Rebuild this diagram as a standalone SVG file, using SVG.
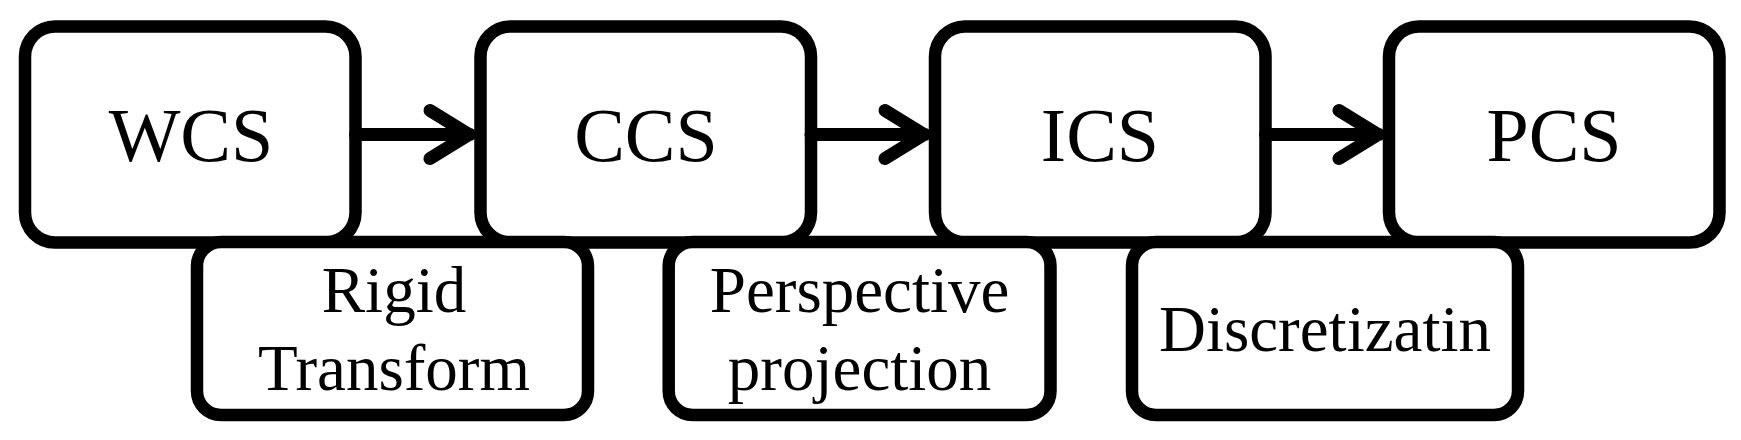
<svg xmlns="http://www.w3.org/2000/svg" width="1741" height="440" viewBox="0 0 1741 440">
<style>
.big{fill:#fff;stroke:#000;stroke-width:12.5}
.small{fill:#fff;stroke:#000;stroke-width:12.5}
.conn{fill:none;stroke:#000;stroke-width:13;stroke-linecap:round;stroke-linejoin:miter}
.lbl{font-family:"Liberation Serif","Times New Roman",serif;fill:#000;text-anchor:middle}
.bl{font-size:76px}
.sl{font-size:65px}
</style>
<rect width="1741" height="440" fill="#fff"/>
<g id="wcs"><rect class="big" x="25" y="26.5" width="330.5" height="216" rx="30"/><text class="lbl bl" x="191" y="161">WCS</text></g>
<g id="ccs"><rect class="big" x="480.5" y="26.5" width="330.5" height="216" rx="30"/><text class="lbl bl" x="646" y="161">CCS</text></g>
<g id="ics"><rect class="big" x="935" y="26.5" width="330.5" height="216" rx="30"/><text class="lbl bl" x="1100" y="161">ICS</text></g>
<g id="pcs"><rect class="big" x="1389" y="26.5" width="330.5" height="216" rx="30"/><text class="lbl bl" x="1554" y="161">PCS</text></g>
<g id="connectors">
<path class="conn" d="M355.5,134.5 H470 M430,110.5 L469,134.5 L430,158.5"/>
<path class="conn" d="M811,134.5 H925 M885,110.5 L924,134.5 L885,158.5"/>
<path class="conn" d="M1265.5,134.5 H1379 M1339,110.5 L1378,134.5 L1339,158.5"/>
</g>
<g id="rigid"><rect class="small" x="197" y="242" width="391" height="173" rx="24"/><text class="lbl sl" x="394" y="312">Rigid</text><text class="lbl sl" x="394" y="390">Transform</text></g>
<g id="perspective"><rect class="small" x="668.7" y="242" width="381.8" height="173" rx="24"/><text class="lbl sl" x="859.6" y="312">Perspective</text><text class="lbl sl" x="859.6" y="390">projection</text></g>
<g id="discretization"><rect class="small" x="1132" y="242" width="386" height="173" rx="24"/><text class="lbl sl" x="1325" y="351">Discretizatin</text></g>
</svg>
